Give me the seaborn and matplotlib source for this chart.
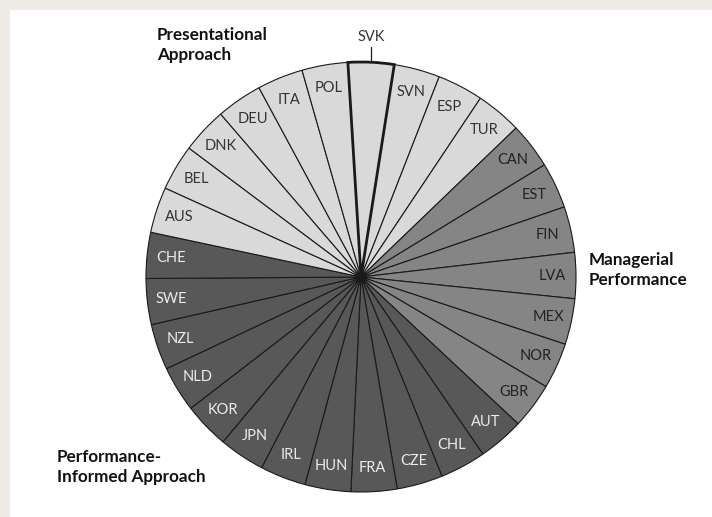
import matplotlib
matplotlib.use("Agg")
import matplotlib.pyplot as plt
import matplotlib.patches as mpatches
import numpy as np
import seaborn as sns

sns.set_theme(style="white")
plt.rcParams['font.family'] = ['Lato', 'DejaVu Sans']

# clockwise from top
countries = ["SVK", "SVN", "ESP", "TUR", "CAN", "EST", "FIN", "LVA", "MEX", "NOR",
             "GBR", "AUT", "CHL", "CZE", "FRA", "HUN", "IRL", "JPN", "KOR", "NLD",
             "NZL", "SWE", "CHE", "AUS", "BEL", "DNK", "DEU", "ITA", "POL"]
groups = ["P", "P", "P", "P", "M", "M", "M", "M", "M", "M",
          "M", "I", "I", "I", "I", "I", "I", "I", "I", "I",
          "I", "I", "I", "P", "P", "P", "P", "P", "P"]
values = [1] * len(countries)
group_names = {"P": "Presentational\nApproach",
               "M": "Managerial\nPerformance",
               "I": "Performance-\nInformed Approach"}

fill = {"P": "#d9d9d9", "M": "#858585", "I": "#585858"}
txt = {"P": "#333333", "M": "#222222", "I": "#ececec"}

W, H = 712, 517
fig = plt.figure(figsize=(W / 100, H / 100), dpi=100)
fig.patch.set_facecolor("#edebe3")
ax = fig.add_axes([0, 0, 1, 1])
ax.add_patch(mpatches.Rectangle((10, 0), W - 10, H - 10, facecolor="white", edgecolor="none", zorder=0))

cx, cy, R = 361, 240, 215
wedges, _ = ax.pie(values, colors=[fill[g] for g in groups], startangle=93.5,
                   counterclock=False, center=(cx, cy), radius=R, frame=True,
                   wedgeprops=dict(edgecolor="#1a1a1a", linewidth=0.8))
ax.set_xlim(0, W)
ax.set_ylim(0, H)
ax.set_aspect("equal")
ax.axis("off")

for w, c, g in zip(wedges, countries, groups):
    ang = np.deg2rad((w.theta1 + w.theta2) / 2)
    if c == "SVK":
        w.set_linewidth(2.0)
        w.set_zorder(3)
        x0, y0 = cx + R * np.cos(ang), cy + R * np.sin(ang)
        ax.plot([x0, x0], [y0, y0 + 15], color="#1a1a1a", lw=0.9, zorder=4)
        ax.text(x0, y0 + 25, c, ha="center", va="center", fontsize=10.5, color="#333333")
        continue
    r = 0.89 * R
    ax.text(cx + r * np.cos(ang), cy + r * np.sin(ang), c, ha="center", va="center",
            fontsize=10.5, color=txt[g], zorder=5)

kw = dict(ha="left", va="center", fontsize=12.3, fontweight="bold",
          color="#111111", linespacing=1.35)
ax.text(157, H - 45, group_names["P"], **kw)
ax.text(589, H - 270, group_names["M"], **kw)
ax.text(57, H - 467, group_names["I"], **kw)

fig.savefig("out.png", dpi=100, facecolor=fig.get_facecolor())
